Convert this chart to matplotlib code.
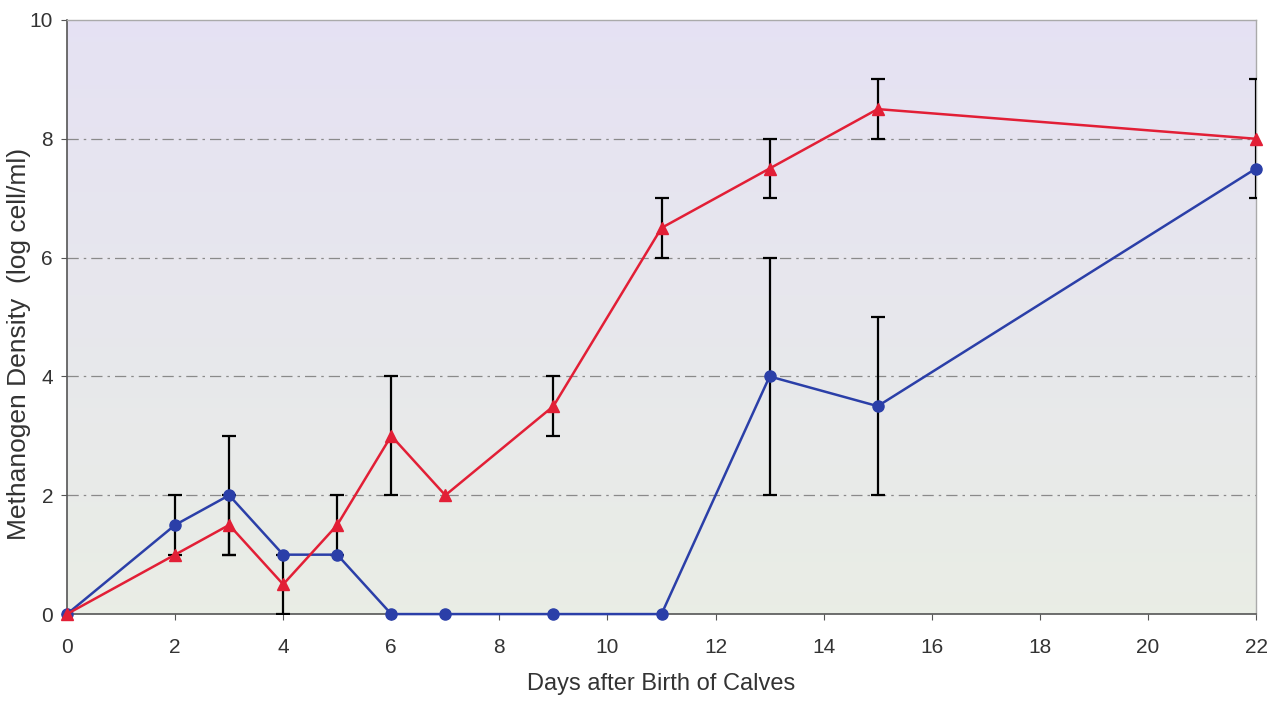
import matplotlib.pyplot as plt
import numpy as np

plt.rcParams["font.family"] = ["Liberation Sans", "DejaVu Sans"]
plt.rcParams["font.size"] = 15

# data
days = [0, 2, 3, 4, 5, 6, 7, 9, 11, 13, 15, 22]
red_vals = [0, 1, 1.5, 0.5, 1.5, 3, 2, 3.5, 6.5, 7.5, 8.5, 8]
red_err = [0, 0, 0.5, 0.5, 0.5, 1, 0, 0.5, 0.5, 0.5, 0.5, 1]
blue_vals = [0, 1.5, 2, 1, 1, 0, 0, 0, 0, 4, 3.5, 7.5]
blue_err = [0, 0.5, 1, 0, 0, 0, 0, 0, 0, 2, 1.5, 0]

xticks = [0, 2, 4, 6, 8, 10, 12, 14, 16, 18, 20, 22]
yticks = [0, 2, 4, 6, 8, 10]

fig = plt.figure(figsize=(12.81, 7.01), dpi=100)
ax = fig.add_axes([0.0523, 0.124, 0.9282, 0.8475])

# gradient background: lavender at top -> greyish green at bottom
top = np.array([0.900, 0.885, 0.955])
bot = np.array([0.915, 0.930, 0.900])
t = np.linspace(0, 1, 256)[:, None]
grad = (top * (1 - t) + bot * t)[:, None, :].repeat(2, axis=1)
ax.imshow(grad, extent=[0, 22, 0, 10], aspect="auto", zorder=0,
          interpolation="bilinear")

for yv in yticks[1:-1]:
    ax.axhline(yv, color="#8a8a8a", linewidth=0.9, linestyle="-.",
               dashes=(9, 4, 2, 4), zorder=1)

# error bars (only where present)
d = np.array(days)
re = np.array(red_err)
be = np.array(blue_err)
m = re > 0
ax.errorbar(d[m], np.array(red_vals)[m], yerr=re[m], fmt="none",
            ecolor="black", elinewidth=1.6, capsize=5, capthick=1.6, zorder=3)
m = be > 0
ax.errorbar(d[m], np.array(blue_vals)[m], yerr=be[m], fmt="none",
            ecolor="black", elinewidth=1.6, capsize=5, capthick=1.6, zorder=3)

ax.plot(days, blue_vals, color="#2b3fa8", linewidth=1.8, marker="o",
        markersize=8, zorder=4, clip_on=False)
ax.plot(days, red_vals, color="#e21f36", linewidth=1.8, marker="^",
        markersize=8, zorder=5, clip_on=False)

ax.set_xlim(0, 22)
ax.set_ylim(0, 10)
ax.set_xticks(xticks)
ax.set_yticks(yticks)
ax.tick_params(direction="out", length=4, color="#555555", labelsize=15,
               labelcolor="#333333")
ax.tick_params(axis="y", pad=6)
ax.tick_params(axis="x", pad=13)
ax.set_xlabel("Days after Birth of Calves", fontsize=17, color="#333333")
ax.set_ylabel("Methanogen Density  (log cell/ml)", fontsize=19,
              color="#333333")
ax.yaxis.set_label_coords(-0.03, 0.455)
ax.xaxis.set_label_coords(0.5, -0.1)

for side in ["left", "bottom"]:
    ax.spines[side].set_color("#555555")
    ax.spines[side].set_linewidth(1.2)
for side in ["top", "right"]:
    ax.spines[side].set_color("#aaaaaa")
    ax.spines[side].set_linewidth(1.0)

fig.savefig("out.png", dpi=100)
